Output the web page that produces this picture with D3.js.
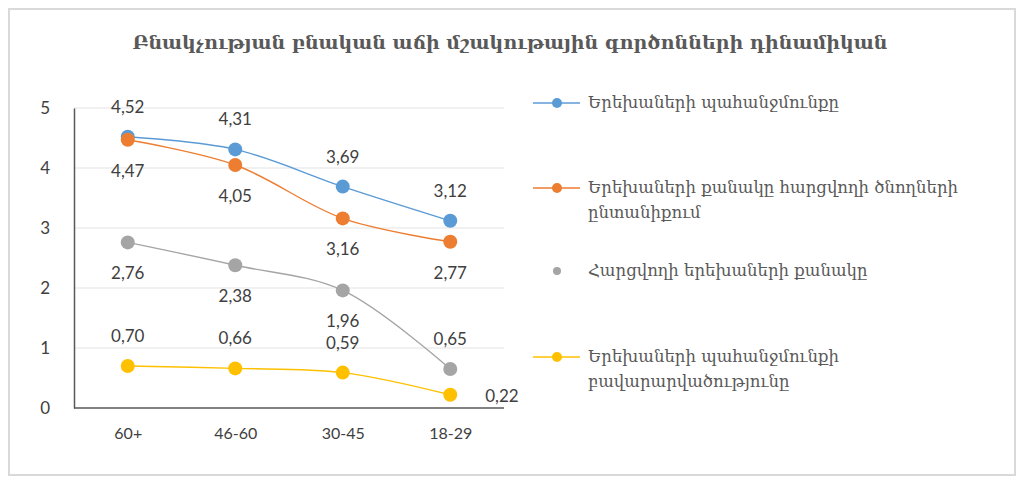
<!DOCTYPE html>
<html>
<head>
<meta charset="utf-8">
<script src="https://cdn.jsdelivr.net/npm/d3@7"></script>
<style>
  body { margin: 0; background: #fff; }
  .num { font-family: Lato, "Liberation Sans", sans-serif; fill: #404040; }
  .arm { font-family: "DejaVu Serif", serif; fill: #595959; }
</style>
</head>
<body>
<div class="chart"></div>
<script>
// chart data
const categories = ["60+", "46-60", "30-45", "18-29"];
const yTicks = [0, 1, 2, 3, 4, 5];

const needValues = [4.52, 4.31, 3.69, 3.12];
const parentsFamilyValues = [4.47, 4.05, 3.16, 2.77];
const ownChildrenValues = [2.76, 2.38, 1.96, 0.65];
const satisfactionValues = [0.70, 0.66, 0.59, 0.22];

const seriesNames = [
  ["Երեխաների պահանջմունքը"],
  ["Երեխաների քանակը հարցվողի ծնողների", "ընտանիքում"],
  ["Հարցվողի երեխաների քանակը"],
  ["Երեխաների պահանջմունքի", "բավարարվածությունը"]
];
// where each data label sits: t = above, b = below, r = right
const labelPlaces = [
  ["t", "t", "t", "t"],
  ["b", "b", "b", "b"],
  ["b", "b", "b", "t"],
  ["t", "t", "t", "r"]
];

const title = "Բնակչության բնական աճի մշակութային գործոնների դինամիկան";
const colors = ["#5b9bd5", "#ed7d31", "#a5a5a5", "#ffc000"];

const W = 1019, H = 480;
const margin = {left: 74, right: 515, top: 108, bottom: 72};

const svg = d3.select(".chart").append("svg")
  .attr("width", W)
  .attr("height", H);

// outer frame
svg.append("rect")
  .attr("x", 9).attr("y", 9)
  .attr("width", W - 13).attr("height", H - 14)
  .attr("fill", "#fff")
  .attr("stroke", "#d9d9d9")
  .attr("stroke-width", 2);

svg.append("text")
  .attr("class", "arm")
  .attr("x", 510).attr("y", 49)
  .attr("text-anchor", "middle")
  .style("font-size", "19px")
  .style("font-weight", "bold")
  .text(title);

const x = d3.scalePoint()
  .domain(categories)
  .range([margin.left, W - margin.right])
  .padding(0.5);

const y = d3.scaleLinear()
  .domain([0, 5])
  .range([H - margin.bottom, margin.top]);

// gridlines
svg.append("g")
  .selectAll("line")
  .data(yTicks.slice(1))
  .enter()
  .append("line")
  .attr("x1", margin.left).attr("x2", W - margin.right)
  .attr("y1", d => y(d)).attr("y2", d => y(d))
  .attr("stroke", "#e3e3e3")
  .attr("stroke-width", 1);

// y axis
const yAxis = svg.append("g")
  .attr("transform", "translate(" + margin.left + ",0)")
  .call(d3.axisLeft(y).tickValues(yTicks).tickSize(0).tickPadding(24).tickFormat(d3.format("d")));
yAxis.select(".domain").attr("stroke", "#595959").attr("stroke-width", 1.5);
yAxis.selectAll("text").attr("class", "num").style("font-size", "17px").attr("fill", "#595959");

// x axis
const xAxis = svg.append("g")
  .attr("transform", "translate(0," + y(0) + ")")
  .call(d3.axisBottom(x).tickSize(0).tickPadding(20));
xAxis.select(".domain").attr("d", "M" + margin.left + ",0H" + (W - margin.right)).attr("stroke", "#595959").attr("stroke-width", 1.5);
xAxis.selectAll("text").attr("class", "num").style("font-size", "16px").attr("fill", "#595959");

const allSeries = [needValues, parentsFamilyValues, ownChildrenValues, satisfactionValues];

const line = d3.line()
  .x((d, i) => x(categories[i]))
  .y(d => y(d))
  .curve(d3.curveCatmullRom.alpha(0.5));

allSeries.forEach(function(vals, s) {
  svg.append("path")
    .datum(vals)
    .attr("fill", "none")
    .attr("stroke", colors[s])
    .attr("stroke-width", 1.4)
    .attr("d", line);

  svg.append("g")
    .selectAll("circle")
    .data(vals)
    .enter()
    .append("circle")
    .attr("cx", (d, i) => x(categories[i]))
    .attr("cy", d => y(d))
    .attr("r", 7)
    .attr("fill", colors[s]);
});

// data labels
allSeries.forEach(function(vals, s) {
  svg.append("g")
    .selectAll("text")
    .data(vals)
    .enter()
    .append("text")
    .attr("class", "num")
    .style("font-size", "17px")
    .attr("text-anchor", (d, i) => labelPlaces[s][i] == "r" ? "start" : "middle")
    .attr("x", function(d, i) {
      return x(categories[i]) + (labelPlaces[s][i] == "r" ? 35 : 0);
    })
    .attr("y", function(d, i) {
      const p = labelPlaces[s][i];
      if (p == "t") return y(d) - 24;
      if (p == "b") return y(d) + 37;
      return y(d) + 7;
    })
    .text(d => d3.format(".2f")(d).replace(".", ","));
});

// legend
const legendY = [103, 188, 271, 357];
const legend = svg.append("g");
seriesNames.forEach(function(lines, s) {
  const g = legend.append("g").attr("transform", "translate(533," + legendY[s] + ")");
  if (s != 2) {
    g.append("line")
      .attr("x1", 0).attr("x2", 47)
      .attr("stroke", colors[s])
      .attr("stroke-width", 1.6);
    g.append("circle").attr("cx", 24).attr("r", 5).attr("fill", colors[s]);
  } else {
    g.append("circle").attr("cx", 24).attr("r", 4).attr("fill", colors[s]);
  }
  g.selectAll("text")
    .data(lines)
    .enter()
    .append("text")
    .attr("class", "arm")
    .style("font-size", "16.5px")
    .attr("x", 55)
    .attr("y", (d, i) => 5 + i * 25)
    .text(d => d);
});
</script>
</body>
</html>
